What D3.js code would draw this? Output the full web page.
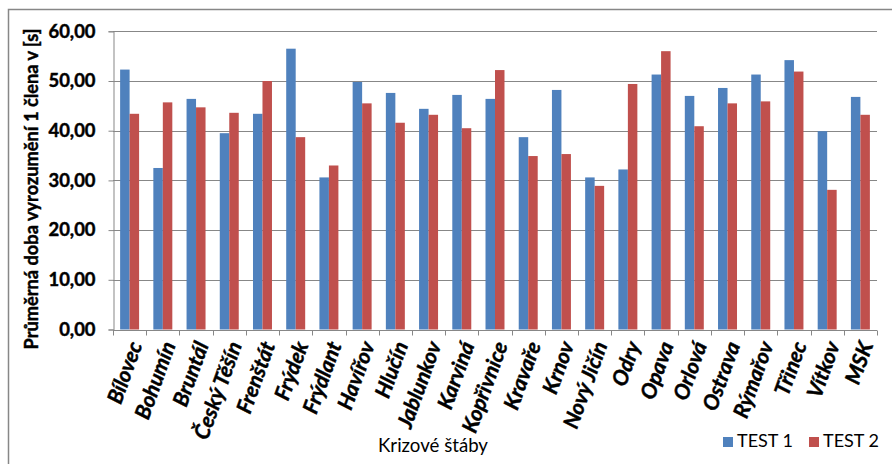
<!DOCTYPE html>
<html>
<head>
<meta charset="utf-8">
<script src="https://cdn.jsdelivr.net/npm/d3@7/dist/d3.min.js"></script>
<style>
  html, body { margin: 0; padding: 0; background: #fff; }
  svg { display: block; }
  text { font-family: Lato, "Open Sans", sans-serif; fill: #000; }
  text.heavy { stroke: #000; stroke-width: 0.45px; paint-order: stroke; }
</style>
</head>
<body>
<svg id="chart" width="892" height="464"></svg>
<script>
// Crisis staffs (krizové štáby)
const categories = ["Bílovec", "Bohumín", "Bruntál", "Český Těšín", "Frenštát", "Frýdek",
  "Frýdlant", "Havířov", "Hlučín", "Jablunkov", "Karviná", "Kopřivnice", "Kravaře",
  "Krnov", "Nový Jičín", "Odry", "Opava", "Orlová", "Ostrava", "Rýmařov", "Třinec",
  "Vítkov", "MSK"];

// Average notification time per member [s]
const test1 = [52.3, 32.5, 46.4, 39.5, 43.4, 56.5, 30.6, 49.8, 47.6, 44.4, 47.2, 46.4,
  38.7, 48.2, 30.6, 32.2, 51.3, 47.0, 48.6, 51.3, 54.2, 39.9, 46.8];
const test2 = [43.4, 45.7, 44.7, 43.6, 50.0, 38.7, 33.0, 45.5, 41.6, 43.2, 40.5, 52.2,
  34.9, 35.3, 28.9, 49.4, 56.0, 40.9, 45.5, 45.9, 51.9, 28.1, 43.2];

const seriesNames = ["TEST 1", "TEST 2"];
const seriesColors = ["#4F81BD", "#C0504D"];
const yTicks = [0, 10, 20, 30, 40, 50, 60];

const svg = d3.select("#chart");
const gridColor = "#878787";

// outer chart frame
svg.append("rect")
  .attr("x", 8.5).attr("y", 9.5)
  .attr("width", 920).attr("height", 500)
  .attr("fill", "none").attr("stroke", gridColor).attr("stroke-width", 1.5);

const plot = { left: 113, right: 877, top: 31.3, bottom: 329.5 };

const x = d3.scaleBand().domain(categories).range([plot.left, plot.right]).padding(0);
const y = d3.scaleLinear().domain([0, 60]).range([plot.bottom, plot.top]);

// bars: two per category, gap of 1.5 bar widths between groups
const barW = x.bandwidth() / 3.5;
const sub = d3.scaleBand().domain(seriesNames)
  .range([barW * 0.75, barW * 2.75]).padding(0);

// horizontal gridlines
svg.append("g")
  .selectAll("line").data(yTicks.slice(1)).join("line")
  .attr("x1", plot.left).attr("x2", plot.right)
  .attr("y1", d => Math.round(y(d)) + 0.5).attr("y2", d => Math.round(y(d)) + 0.5)
  .attr("stroke", gridColor).attr("stroke-width", 1);

const rows = categories.map((c, i) => ({ c, vals: [test1[i], test2[i]] }));

const groups = svg.append("g").selectAll("g").data(rows).join("g")
  .attr("transform", d => `translate(${x(d.c)},0)`);

groups.selectAll("rect")
  .data(d => d.vals.map((v, k) => ({ v, k })))
  .join("rect")
  .attr("x", d => sub(seriesNames[d.k]))
  .attr("width", sub.bandwidth())
  .attr("y", d => y(d.v))
  .attr("height", d => y(0) - y(d.v))
  .attr("fill", d => seriesColors[d.k]);

// y axis
const yAxis = svg.append("g")
  .attr("transform", `translate(${plot.left + 0.5},0)`)
  .call(d3.axisLeft(y).tickValues(yTicks).tickSize(5).tickPadding(13)
    .tickFormat(d => d3.format(".2f")(d).replace(".", ",")));
yAxis.select(".domain").attr("stroke", gridColor);
yAxis.selectAll(".tick line").attr("stroke", gridColor);
yAxis.selectAll(".tick text")
  .attr("class", "heavy")
  .attr("font-family", "Lato, sans-serif")
  .attr("font-weight", "bold").attr("font-size", 18).attr("fill", "#000");

// x axis with ticks at category boundaries
const xAxisG = svg.append("g").attr("transform", `translate(0,${Math.round(plot.bottom) + 0.5})`);
xAxisG.append("line")
  .attr("x1", plot.left).attr("x2", plot.right)
  .attr("stroke", gridColor);
xAxisG.selectAll("line.tk")
  .data(categories.map(c => x(c)).concat([plot.right]))
  .join("line").attr("class", "tk")
  .attr("x1", d => Math.round(d) + 0.5).attr("x2", d => Math.round(d) + 0.5)
  .attr("y1", 0).attr("y2", 5).attr("stroke", gridColor);

// rotated category labels
const catLabels = svg.append("g").selectAll("text").data(categories).join("text")
  .attr("class", "heavy")
  .attr("transform", d => `translate(${x(d) + x.bandwidth() / 2 + 6},${plot.bottom + 13}) rotate(-70)`)
  .attr("text-anchor", "end")
  .attr("dy", "0.35em")
  .attr("font-weight", "bold").attr("font-style", "italic")
  .attr("font-size", 17)
  .text(d => d);

// scale a text selection so that one reference element reaches a target width
function fitWidth(sel, refNode, target) {
  const size = parseFloat(d3.select(refNode).attr("font-size"));
  const w = refNode.getComputedTextLength();
  sel.attr("font-size", (size * target / w).toFixed(2));
}

fitWidth(yAxis.selectAll(".tick text"), yAxis.selectAll(".tick text").nodes()[6], 47);
fitWidth(catLabels, catLabels.nodes()[3], 102);

// axis titles
const yTitle = svg.append("text")
  .attr("class", "heavy")
  .attr("transform", `translate(38,189) rotate(-90)`)
  .attr("text-anchor", "middle")
  .attr("font-weight", "bold").attr("font-size", 16)
  .text("Průměrná doba vyrozumění 1 člena v [s]");
fitWidth(yTitle, yTitle.node(), 321);

const xTitle = svg.append("text")
  .attr("x", 433).attr("y", 452)
  .attr("text-anchor", "middle")
  .attr("font-size", 18)
  .text("Krizové štáby");
fitWidth(xTitle, xTitle.node(), 110);

// legend
const legendX = [723, 809];
const legend = svg.append("g").selectAll("g").data(seriesNames).join("g")
  .attr("transform", (d, i) => `translate(${legendX[i]},437)`);
legend.append("rect").attr("width", 10).attr("height", 10)
  .attr("fill", (d, i) => seriesColors[i]);
const legendText = legend.append("text")
  .attr("x", 14).attr("y", 10)
  .attr("font-size", 18)
  .text(d => d);
fitWidth(legendText, legendText.nodes()[0], 56);
</script>
</body>
</html>
